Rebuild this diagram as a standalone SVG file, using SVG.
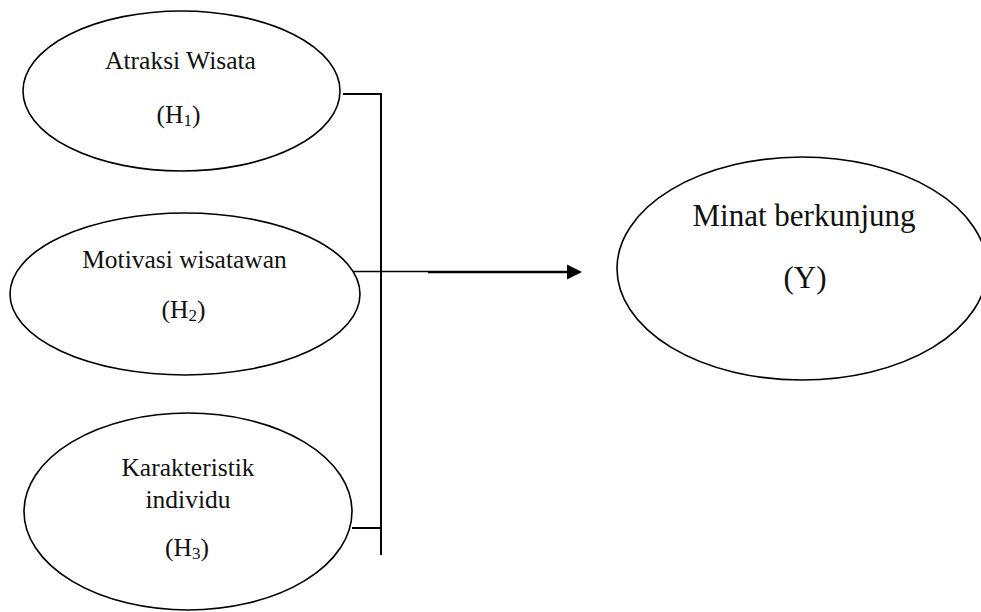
<svg xmlns="http://www.w3.org/2000/svg" width="981" height="612" viewBox="0 0 981 612">
<style>
.node{fill:#fff;stroke:#000;stroke-width:1.6}
.lbl{font-family:"Liberation Serif","Times New Roman",serif;font-size:25.5px;fill:#111;text-anchor:middle}
.big{font-size:31px}
.sub{font-size:17px}
.conn{stroke:#000;stroke-width:2;fill:none}
</style>
<rect width="981" height="612" fill="#fff"/>
<g id="node-h1">
<ellipse class="node" cx="181.5" cy="91" rx="158.5" ry="80"/>
<text class="lbl" x="180.5" y="69">Atraksi Wisata</text>
<text class="lbl" x="178.5" y="123">(H<tspan class="sub" dy="3">1</tspan><tspan dy="-3">)</tspan></text>
</g>
<g id="node-h2">
<ellipse class="node" cx="185" cy="294" rx="175" ry="81"/>
<text class="lbl" x="184.5" y="268">Motivasi wisatawan</text>
<text class="lbl" x="183.5" y="318">(H<tspan class="sub" dy="3">2</tspan><tspan dy="-3">)</tspan></text>
</g>
<g id="node-h3">
<ellipse class="node" cx="188" cy="511.5" rx="164" ry="98.5"/>
<text class="lbl" x="188" y="476">Karakteristik</text>
<text class="lbl" x="188" y="508">individu</text>
<text class="lbl" x="187" y="556">(H<tspan class="sub" dy="3">3</tspan><tspan dy="-3">)</tspan></text>
</g>
<g id="node-y">
<ellipse class="node" cx="802" cy="268.5" rx="185" ry="111.5"/>
<text class="lbl big" x="804" y="226">Minat berkunjung</text>
<text class="lbl big" x="805" y="288">(Y)</text>
</g>
<g id="connectors">
<polyline class="conn" points="343,94 381,94 381,555"/>
<line class="conn" x1="352" y1="528" x2="381" y2="528"/>
<line class="conn" x1="353" y1="271.5" x2="428" y2="271.5" style="stroke-width:1.6"/>
<line class="conn" x1="428" y1="272" x2="569" y2="272" style="stroke-width:2.4"/>
<polygon points="567,264.5 582,272 567,279.5" fill="#000"/>
</g>
</svg>
